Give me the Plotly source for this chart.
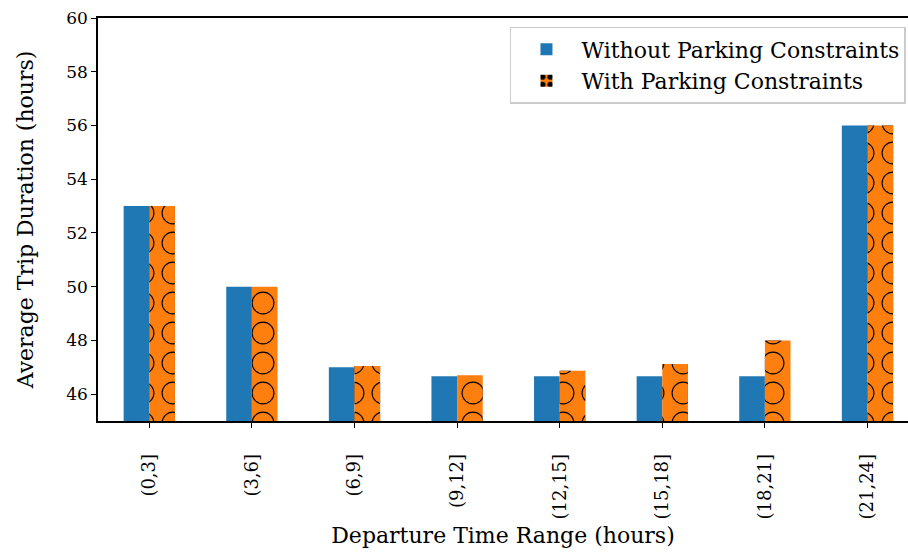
import plotly.graph_objects as go

categories = ["(0,3]", "(3,6]", "(6,9]", "(9,12]", "(12,15]", "(15,18]", "(18,21]", "(21,24]"]
without_parking = [53.0, 50.0, 47.0, 46.67, 46.67, 46.67, 46.67, 56.0]
with_parking = [53.0, 50.0, 47.05, 46.7, 46.87, 47.12, 48.0, 56.0]
y_ticks = [46, 48, 50, 52, 54, 56, 58, 60]

BLUE = "#1f77b4"
ORANGE = "#ff7f0e"
FONT = "DejaVu Serif"

fig = go.Figure()
fig.add_trace(go.Bar(
    x=categories, y=without_parking, name="Without Parking Constraints",
    marker=dict(color=BLUE, line=dict(width=0)), offsetgroup="a",
))
fig.add_trace(go.Bar(
    x=categories, y=with_parking, name="With Parking Constraints",
    marker=dict(color=ORANGE, line=dict(width=0),
                pattern=dict(shape=".", fillmode="overlay", bgcolor=ORANGE,
                             fgcolor="black", fgopacity=1, size=30, solidity=0.46)),
    offsetgroup="b",
))
# inner fill to turn dots into rings
fig.add_trace(go.Bar(
    x=categories, y=with_parking, name="With Parking Constraints", showlegend=False,
    marker=dict(color="rgba(0,0,0,0)", line=dict(width=0),
                pattern=dict(shape=".", fillmode="overlay", bgcolor="rgba(0,0,0,0)",
                             fgcolor=ORANGE, fgopacity=1, size=30, solidity=0.375)),
    offsetgroup="b", hoverinfo="skip",
))

fig.update_layout(
    width=908, height=552,
    margin=dict(l=98, r=0, t=18, b=131, autoexpand=False),
    paper_bgcolor="white", plot_bgcolor="white",
    barmode="group", bargap=0.5, bargroupgap=0,
    font=dict(family=FONT, size=18, color="black"),
    showlegend=True,
    legend=dict(x=0.9975, y=0.978, xanchor="right", yanchor="top",
                bgcolor="white", bordercolor="#cccccc", borderwidth=1.5,
                font=dict(family=FONT, size=22), tracegroupgap=2, itemwidth=60),
    xaxis=dict(
        automargin=False,
        range=[-0.5, 7.395], showline=True, linecolor="black", linewidth=1.5,
        mirror=True, ticks="outside", ticklen=5, tickwidth=1.2, tickcolor="black",
        tickangle=-90, tickfont=dict(family=FONT, size=18),
        ticklabelstandoff=19, showgrid=False,
        title=dict(text="Departure Time Range (hours)", font=dict(family=FONT, size=22), standoff=9),
    ),
    yaxis=dict(
        automargin=False, ticklabeloverflow="allow",
        range=[45, 60], tickvals=y_ticks, showline=True, linecolor="black", linewidth=1.5,
        mirror=True, ticks="outside", ticklen=5, tickwidth=1.2, tickcolor="black",
        tickfont=dict(family=FONT, size=17), showgrid=False, zeroline=False,
        title=dict(text="Average Trip Duration (hours)", font=dict(family=FONT, size=22), standoff=27),
    ),
)

fig.write_html(
    "out.html",
    config={"displayModeBar": False},
    post_script="document.body.style.margin='0';document.body.style.overflow='hidden';",
)
